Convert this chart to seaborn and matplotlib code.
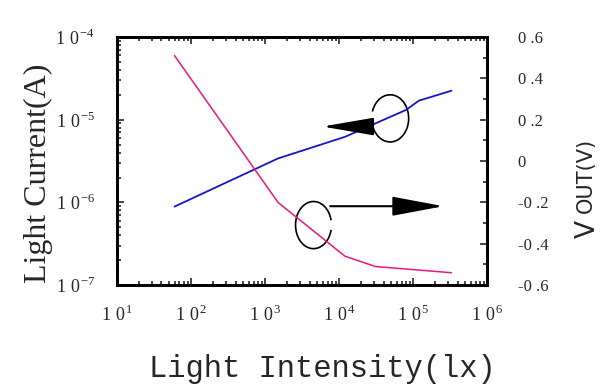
import numpy as np
import pandas as pd
import matplotlib
matplotlib.use("Agg")
import matplotlib.pyplot as plt
from matplotlib.patches import Arc
from matplotlib.ticker import LogLocator, MultipleLocator, FixedLocator
import seaborn as sns

sns.set_style("ticks")
plt.rcParams['font.family'] = ['Liberation Serif', 'DejaVu Serif']
plt.rcParams['mathtext.fontset'] = 'custom'
plt.rcParams['mathtext.rm'] = 'Liberation Serif'

# Light current vs light intensity (left axis, log)
lux_current = [60, 1500, 12000, 80000, 120000, 330000]
light_current = [8.9e-7, 3.4e-6, 6.2e-6, 1.31e-5, 1.7e-5, 2.24e-5]

# Vout vs light intensity (right axis)
lux_vout = [60, 1500, 12000, 31000, 330000]
vout = [0.51, -0.20, -0.46, -0.51, -0.54]

x_ticks = [1e1, 1e2, 1e3, 1e4, 1e5, 1e6]
x_labels = [r'$\mathrm{1\ 0}^{%d}$' % e for e in range(1, 7)]
y_ticks = [1e-7, 1e-6, 1e-5, 1e-4]
y_labels = [r'$\mathrm{1\ 0}^{%d}$' % e for e in range(-7, -3)]
v_ticks = [-0.6, -0.4, -0.2, 0, 0.2, 0.4, 0.6]
v_labels = ['-0 .6', '-0 .4', '-0 .2', '0', '0 .2', '0 .4', '0 .6']

df_i = pd.DataFrame({'lux': lux_current, 'current': light_current})
df_v = pd.DataFrame({'lux': lux_vout, 'vout': vout})

fig = plt.figure(figsize=(6.12, 3.89), dpi=100)
ax = fig.add_axes([0.191, 0.267, 0.605, 0.638])
ax2 = ax.twinx()

sns.lineplot(data=df_i, x='lux', y='current', ax=ax, color='#1515c8', lw=1.3)
sns.lineplot(data=df_v, x='lux', y='vout', ax=ax2, color='#e8187c', lw=1.1)

ax.set_xscale('log')
ax.set_yscale('log')
ax.set_xlim(1e1, 1e6)
ax.set_ylim(1e-7, 1e-4)
ax2.set_ylim(-0.6, 0.6)

ax.xaxis.set_major_locator(FixedLocator(x_ticks))
ax.set_xticklabels(x_labels, fontsize=13)
ax.xaxis.set_minor_locator(LogLocator(base=10, subs=np.arange(2, 10)))
ax.yaxis.set_major_locator(FixedLocator(y_ticks))
ax.set_yticklabels(y_labels, fontsize=13)
ax.yaxis.set_minor_locator(LogLocator(base=10, subs=np.arange(2, 10)))
ax2.yaxis.set_major_locator(FixedLocator(v_ticks))
ax2.set_yticklabels(v_labels, fontsize=12)
ax2.yaxis.set_minor_locator(MultipleLocator(0.1))

ax.tick_params(which='both', direction='in', top=True, right=False, width=1.2)
ax.tick_params(which='major', length=5)
ax.tick_params(which='minor', length=3)
ax.tick_params(axis='x', pad=14)
ax.tick_params(axis='y', pad=16)
ax2.tick_params(which='both', direction='in', width=1.2, pad=22)
ax2.tick_params(which='major', length=5)
ax2.tick_params(which='minor', length=3)
for a in (ax, ax2):
    for s in a.spines.values():
        s.set_linewidth(2)
        s.set_color('black')

ax.set_xlabel('Light Intensity(lx)', family=['Liberation Mono'], fontsize=22, labelpad=21)
ax.xaxis.label.set_x(0.555)
ax.set_ylabel('Light Current(A)', fontsize=23, labelpad=2)
ax.yaxis.label.set_y(0.45)
ax2.set_ylabel('')

# right axis label: "V" with small "OUT(V)"
fig.text(0.981, 0.388, 'V', rotation=90, family=['DejaVu Sans'], fontsize=19,
         ha='right', va='bottom')
fig.text(0.973, 0.388 + 0.064, 'OUT(V)', rotation=90, family=['DejaVu Sans'], fontsize=15,
         ha='right', va='bottom')

# annotation loops and arrows (axes fraction)
ax.add_patch(Arc((0.738, 0.672), 0.10, 0.19, theta1=-160, theta2=150,
                 transform=ax.transAxes, lw=1.2, color='black'))
ax.annotate('', xy=(0.555, 0.639), xytext=(0.680, 0.639), xycoords='axes fraction',
            arrowprops=dict(arrowstyle='-|>,head_length=3.2,head_width=0.55',
                            color='black', lw=1.5, shrinkA=0, shrinkB=0))
ax.add_patch(Arc((0.531, 0.242), 0.097, 0.19, theta1=22, theta2=338,
                 transform=ax.transAxes, lw=1.2, color='black'))
ax.annotate('', xy=(0.882, 0.318), xytext=(0.576, 0.318), xycoords='axes fraction',
            arrowprops=dict(arrowstyle='-|>,head_length=3.2,head_width=0.6',
                            color='black', lw=1.5, shrinkA=0, shrinkB=0))

fig.savefig('out.png', dpi=100)
